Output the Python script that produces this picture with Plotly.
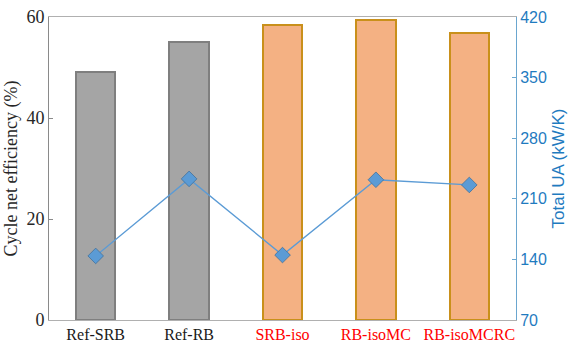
import plotly.graph_objects as go

# Cycle configurations
categories = ["Ref-SRB", "Ref-RB", "SRB-iso", "RB-isoMC", "RB-isoMCRC"]
label_colors = ["#1a1a1a", "#1a1a1a", "#ff0000", "#ff0000", "#ff0000"]

# Cycle net efficiency (%)
efficiency = [49.1, 55.1, 58.4, 59.5, 56.8]
# Total UA (kW/K)
total_ua = [144, 233, 145, 232, 226]

bar_fill = ["#a5a5a5", "#a5a5a5", "#f4b183", "#f4b183", "#f4b183"]
bar_edge = ["#7f7f7f", "#7f7f7f", "#c9901b", "#c9901b", "#c9901b"]

SERIF = "Times New Roman, Liberation Serif, serif"
SANS = "Arial, Liberation Sans, sans-serif"

x_idx = list(range(len(categories)))
ticktext = [f'<span style="color:{c}">{t}</span>' for t, c in zip(categories, label_colors)]

fig = go.Figure()
fig.add_trace(go.Bar(
    x=x_idx, y=efficiency, width=0.42,
    marker=dict(color=bar_fill, line=dict(color=bar_edge, width=2)),
    yaxis="y", showlegend=False,
))
fig.add_trace(go.Scatter(
    x=x_idx, y=total_ua, mode="lines+markers",
    line=dict(color="#5b9bd5", width=1.3),
    marker=dict(symbol="diamond", size=12, color="#5b9bd5",
                line=dict(color="#41719c", width=0.8)),
    yaxis="y2", showlegend=False,
))

fig.update_layout(
    width=573, height=345,
    margin=dict(l=49, r=57, t=17, b=25),
    plot_bgcolor="white", paper_bgcolor="white",
    bargap=0,
    xaxis=dict(
        range=[-0.5, 4.5], tickvals=x_idx, ticktext=ticktext,
        showgrid=False, zeroline=False, showline=True,
        linecolor="#b0b0b0", linewidth=1, mirror=True,
        ticks="", automargin=False,
        tickfont=dict(family=SERIF, size=16),
    ),
    yaxis=dict(
        range=[0, 60], tickvals=[0, 20, 40, 60],
        showgrid=False, zeroline=False, showline=True,
        linecolor="#8a8a8a", linewidth=1,
        ticks="inside", ticklen=4, tickcolor="#8a8a8a", automargin=False,
        tickfont=dict(family=SERIF, size=18, color="#262626"),
        title=dict(text="Cycle net efficiency (%)", standoff=4,
                   font=dict(family=SERIF, size=18, color="#262626")),
    ),
    yaxis2=dict(
        range=[70, 420], tickvals=[70, 140, 210, 280, 350, 420],
        overlaying="y", side="right",
        showgrid=False, zeroline=False, showline=True,
        linecolor="#6aa6cf", linewidth=1,
        ticks="inside", ticklen=4, tickcolor="#6aa6cf", automargin=False,
        tickfont=dict(family=SANS, size=16, color="#1f7bbf"),
        title=dict(text="Total UA (kW/K)", standoff=6,
                   font=dict(family=SANS, size=17, color="#1f7bbf")),
    ),
)

fig.write_html("out.html")
